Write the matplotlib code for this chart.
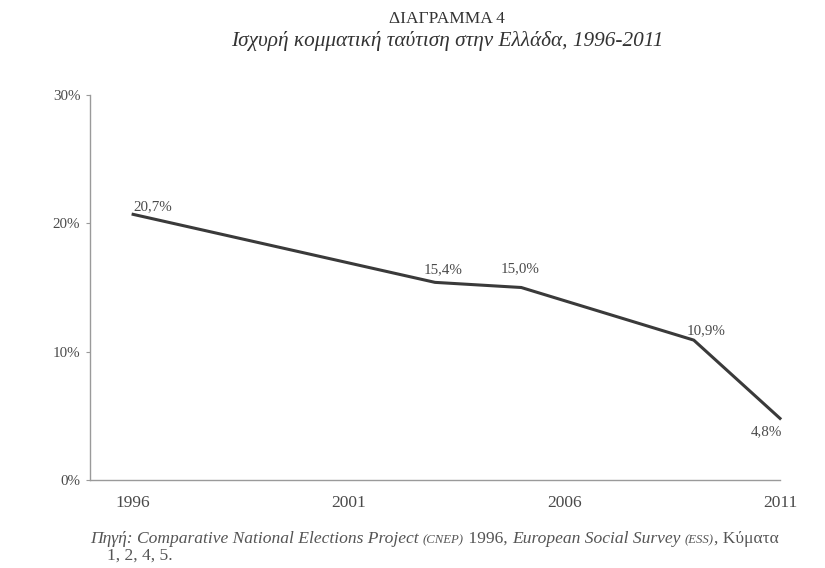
import matplotlib
matplotlib.use("Agg")
import matplotlib.pyplot as plt
from matplotlib.offsetbox import TextArea, HPacker, AnnotationBbox

plt.rcParams['font.family'] = ['Liberation Serif', 'DejaVu Serif']

# data (ESS fieldwork years for Greece)
years = [1996, 2003, 2005, 2009, 2011]
values = [20.7, 15.4, 15.0, 10.9, 4.8]
value_labels = ["20,7%", "15,4%", "15,0%", "10,9%", "4,8%"]
tick_years = [1996, 2001, 2006, 2011]
y_ticks = [0, 10, 20, 30]

# label offsets in pixels (dx, dy)
offsets = [(20, 8), (8, 13), (-1, 19), (12, 9), (-14, -13)]

txt_col = "#4a4a4a"
line_col = "#3a3a3a"
axis_col = "#9a9a9a"

fig = plt.figure(figsize=(8.25, 5.68), dpi=100)
ax = fig.add_axes([90 / 825, 1 - 480 / 568, 690 / 825, 385 / 568])

ax.plot(years, values, color=line_col, lw=2.2, clip_on=False, solid_joinstyle="round")

for x, y, lab, (dx, dy) in zip(years, values, value_labels, offsets):
    ax.annotate(lab, (x, y), xytext=(dx, dy), textcoords="offset pixels",
                ha="center", va="center", fontsize=10.8, color=txt_col)

ax.set_xlim(1995, 2011)
ax.set_ylim(0, 30)
ax.set_xticks(tick_years)
ax.set_xticklabels([str(t) for t in tick_years])
ax.set_yticks(y_ticks)
ax.set_yticklabels([f"{t}%" for t in y_ticks])

for s in ["top", "right"]:
    ax.spines[s].set_visible(False)
for s in ["left", "bottom"]:
    ax.spines[s].set_color(axis_col)
    ax.spines[s].set_linewidth(1.0)

ax.tick_params(axis="y", length=3, color=axis_col, labelsize=10.8, labelcolor=txt_col, pad=4)
ax.tick_params(axis="x", length=0, labelsize=12.5, labelcolor=txt_col, pad=11)

fig.text(447 / 825, 1 - 19 / 568, "ΔΙΑΓΡΑΜΜΑ 4", ha="center", va="center",
         fontsize=12.5, color="#333333")
fig.text(447 / 825, 1 - 41 / 568, "Ισχυρή κομματική ταύτιση στην Ελλάδα, 1996-2011",
         ha="center", va="center", fontsize=15.3, style="italic", color="#333333")

# source note, mixed styles
src_col = "#555555"
parts = [
    ("Πηγή: Comparative National Elections Project ", dict(style="italic", size=12.6)),
    ("(CNEP)", dict(style="italic", size=9.2)),
    (" 1996, ", dict(size=12.6)),
    ("European Social Survey ", dict(style="italic", size=12.6)),
    ("(ESS)", dict(style="italic", size=9.2)),
    (", Κύματα", dict(size=12.6)),
]
boxes = [TextArea(t, textprops=dict(color=src_col, **p)) for t, p in parts]
pack = HPacker(children=boxes, align="baseline", pad=0, sep=0)
ab = AnnotationBbox(pack, (90 / 825, 1 - 539 / 568), xycoords="figure fraction",
                    box_alignment=(0, 0.5), frameon=False)
fig.add_artist(ab)
fig.text(107 / 825, 1 - 556 / 568, "1, 2, 4, 5.", ha="left", va="center",
         fontsize=12.6, color=src_col)

fig.savefig("out.png", dpi=100)
